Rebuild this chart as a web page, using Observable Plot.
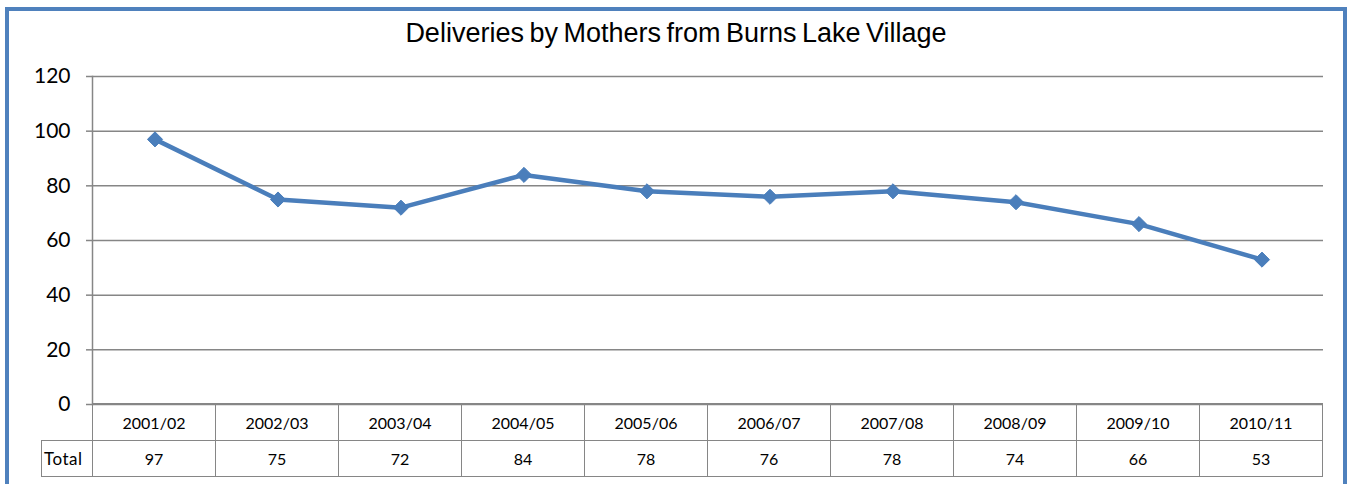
<!DOCTYPE html>
<html>
<head>
<meta charset="utf-8">
<script src="https://cdn.jsdelivr.net/npm/d3@7"></script>
<script src="https://cdn.jsdelivr.net/npm/@observablehq/plot@0.6"></script>
<style>
  html, body { margin: 0; padding: 0; background: #fff; overflow: hidden; }
  #wrap { position: relative; width: 1350px; height: 484px; overflow: hidden; }
  #border { position: absolute; left: 5px; top: 7px; width: 1342px; height: 600px; box-sizing: border-box; border: 4px solid #4F81BD; }
  #title { position: absolute; left: 9px; width: 1334px; top: 20px; text-align: center; font-family: "Liberation Sans", Arial, sans-serif; font-size: 27px; line-height: 26px; word-spacing: -2px; color: #000; }
  #chart { position: absolute; left: 0; top: 0; }
  #tbl { position: absolute; border-collapse: collapse; font-family: Lato, "Open Sans", sans-serif; font-size: 16px; color: #000; table-layout: fixed; }
  #tbl td { padding: 0; text-align: center; box-sizing: border-box; }
</style>
</head>
<body>
<div id="wrap">
  <div id="border"></div>
  <div id="title">Deliveries by Mothers from Burns Lake Village</div>
  <div id="chart"></div>
  <table id="tbl"></table>
</div>
<script>
const categories = ["2001/02","2002/03","2003/04","2004/05","2005/06","2006/07","2007/08","2008/09","2009/10","2010/11"];
const totals = [97, 75, 72, 84, 78, 76, 78, 74, 66, 53];
const yTicks = [0, 20, 40, 60, 80, 100, 120];
const seriesName = "Total";

const data = categories.map((c, i) => ({period: c, value: totals[i]}));
const lineColor = "#4A7EBB";
const gridColor = "#868686";

const plot = Plot.plot({
  width: 1350,
  height: 405,
  marginTop: 76,
  marginBottom: 1,
  marginLeft: 92,
  marginRight: 27,
  style: {fontFamily: "Lato, 'Open Sans', sans-serif", background: "transparent", overflow: "visible"},
  x: {type: "band", domain: categories, padding: 0, axis: null},
  y: {domain: [0, 120], ticks: yTicks},
  marks: [
    Plot.gridY(yTicks, {stroke: gridColor, strokeOpacity: 1, strokeWidth: 1.5}),
    Plot.axisY(yTicks, {tickSize: 6, tickPadding: 16, fontSize: 21, stroke: gridColor, strokeOpacity: 1, strokeWidth: 1.5, color: "#000", fill: "#000", label: null}),
    Plot.frame({anchor: "left", stroke: gridColor, strokeWidth: 1.5}),
    Plot.line(data, {x: "period", y: "value", stroke: lineColor, strokeWidth: 4.5, strokeLinejoin: "round"}),
    Plot.dot(data, {x: "period", y: "value", symbol: "diamond2", r: 6.8, fill: lineColor, stroke: lineColor, strokeWidth: 1})
  ]
});
document.getElementById("chart").appendChild(plot);

// Data table aligned to the band scale
const xs = plot.scale("x");
const ys = plot.scale("y");
const bw = xs.bandwidth;
const left0 = xs.range[0];
const firstW = 51;
const tbl = document.getElementById("tbl");
const totalW = firstW + bw * categories.length;
tbl.style.left = (left0 - firstW) + "px";
tbl.style.top = (ys.apply(0) - 0.75) + "px";
tbl.style.width = totalW + "px";
const bcol = "1.5px solid " + gridColor;

const cg = document.createElement("colgroup");
const c0 = document.createElement("col"); c0.style.width = firstW + "px"; cg.appendChild(c0);
categories.forEach(() => { const c = document.createElement("col"); c.style.width = bw + "px"; cg.appendChild(c); });
tbl.appendChild(cg);

const r1 = document.createElement("tr"); r1.style.height = "37px";
const h0 = document.createElement("td");
h0.style.borderRight = bcol; h0.style.borderBottom = bcol;
r1.appendChild(h0);
categories.forEach(c => {
  const td = document.createElement("td");
  td.textContent = c;
  td.style.border = bcol;
  r1.appendChild(td);
});
tbl.appendChild(r1);

const r2 = document.createElement("tr"); r2.style.height = "36px";
const t0 = document.createElement("td");
t0.textContent = seriesName;
t0.style.border = bcol; t0.style.textAlign = "left"; t0.style.paddingLeft = "2px";
t0.style.fontSize = "17px"; t0.style.letterSpacing = "0.5px";
r2.appendChild(t0);
totals.forEach(v => {
  const td = document.createElement("td");
  td.textContent = v;
  td.style.border = bcol;
  r2.appendChild(td);
});
tbl.appendChild(r2);
</script>
</body>
</html>
